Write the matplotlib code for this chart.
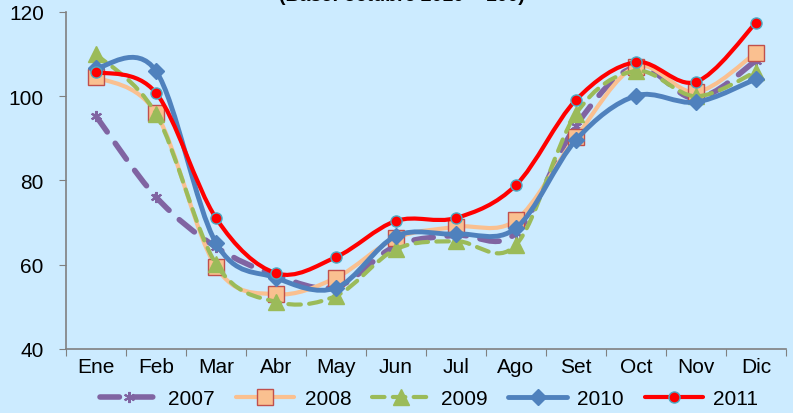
import matplotlib
matplotlib.use("Agg")
import matplotlib.pyplot as plt
import numpy as np
from matplotlib.path import Path
from matplotlib.patches import PathPatch
from matplotlib.lines import Line2D

plt.rcParams['font.family'] = ['Liberation Sans', 'DejaVu Sans']

months = ['Ene', 'Feb', 'Mar', 'Abr', 'May', 'Jun', 'Jul', 'Ago', 'Set', 'Oct', 'Nov', 'Dic']
v2007 = [95.3, 76.1, 64.2, 57.5, 54.7, 64.5, 67.0, 67.5, 93.0, 107.0, 99.5, 108.4]
v2008 = [104.6, 96.0, 59.5, 53.0, 56.9, 66.3, 69.0, 70.6, 90.3, 107.0, 101.0, 110.3]
v2009 = [110.0, 95.8, 60.2, 51.2, 52.6, 63.7, 65.6, 64.7, 95.8, 106.0, 100.0, 105.8]
v2010 = [106.7, 106.0, 65.2, 56.9, 54.5, 66.8, 67.3, 68.7, 89.6, 100.1, 98.6, 104.1]
v2011 = [105.8, 100.8, 71.1, 58.0, 61.8, 70.4, 71.1, 78.9, 99.1, 108.1, 103.4, 117.4]
years = ['2007', '2008', '2009', '2010', '2011']

bg = '#CCEBFF'

def smooth_path(x, y):
    # bezier curve like the excel "smoothed line"
    pts = np.column_stack([x, y]).astype(float)
    n = len(pts)
    verts = [pts[0]]
    codes = [Path.MOVETO]
    for i in range(n - 1):
        p0 = pts[i - 1] if i > 0 else pts[i]
        p1 = pts[i]
        p2 = pts[i + 1]
        p3 = pts[i + 2] if i + 2 < n else pts[i + 1]
        c1 = p1 + (p2 - p0) / 6.0
        c2 = p2 - (p3 - p1) / 6.0
        verts += [c1, c2, p2]
        codes += [Path.CURVE4] * 3
    return Path(verts, codes)

fig = plt.figure(figsize=(7.93, 4.14), dpi=100, facecolor=bg)
ax = fig.add_axes([0.0832, 0.1546, 0.9078, 0.814])
ax.set_facecolor(bg)

x = np.arange(1, 13)
styles = [
    (v2007, dict(color='#8064A2', lw=4, ls=(0, (3.5, 2.5))), dict(marker=(6, 2, 0), ms=8, mfc='#8064A2', mec='#8064A2', mew=1.5)),
    (v2008, dict(color='#FAC090', lw=3, ls='-'), dict(marker='s', ms=11, mfc='#FAC090', mec='#C0504D', mew=1)),
    (v2009, dict(color='#9BBB59', lw=3, ls=(0, (3, 2))), dict(marker='^', ms=11, mfc='#9BBB59', mec='#9BBB59', mew=1)),
    (v2010, dict(color='#4F81BD', lw=3.5, ls='-'), dict(marker='D', ms=8, mfc='#4F81BD', mec='#4F81BD', mew=1)),
    (v2011, dict(color='#FF0000', lw=3, ls='-'), dict(marker='o', ms=8, mfc='#FF0000', mec='#4BACC6', mew=1)),
]

handles = []
for i, (vals, lst, mst) in enumerate(styles):
    patch = PathPatch(smooth_path(x, vals), fill=False, edgecolor=lst['color'],
                      lw=lst['lw'], linestyle=lst['ls'], capstyle='round', zorder=2 + i)
    ax.add_patch(patch)
    ax.plot(x, vals, ls='none', zorder=2.5 + i, **mst)
    handles.append(Line2D([], [], color=lst['color'], lw=lst['lw'], ls=lst['ls'],
                          solid_capstyle='round', dash_capstyle='round', **mst))

ax.set_xlim(0.5, 12.5)
ax.set_ylim(40, 120)
ax.set_yticks([40, 60, 80, 100, 120])
ax.set_xticks(np.arange(0.5, 13, 1))
ax.set_xticklabels([])
ax.set_xticks(x, minor=True)
ax.set_xticklabels(months, minor=True)
ax.tick_params(axis='x', which='minor', length=0, pad=6, labelsize=15)
ax.tick_params(axis='x', which='major', direction='out', length=5, color='#808080')
ax.tick_params(axis='y', direction='out', length=5, color='#808080', labelsize=15, pad=11)
for s in ['top', 'right']:
    ax.spines[s].set_visible(False)
for s in ['left', 'bottom']:
    ax.spines[s].set_color('#808080')
    ax.spines[s].set_linewidth(1.2)

# title is partly cut off at the top edge, as in the original
fig.text(0.507, 1.008, '(Base: octubre 2010 = 100)', ha='center', va='center',
         fontsize=14, fontweight='bold')

fig.legend(handles, years, loc='center', bbox_to_anchor=(0.541, 0.034), ncol=5,
           frameon=False, fontsize=15, handlelength=2.8, handletextpad=0.5,
           columnspacing=1.0, numpoints=1)

fig.savefig('out.png', dpi=100, facecolor=bg)
